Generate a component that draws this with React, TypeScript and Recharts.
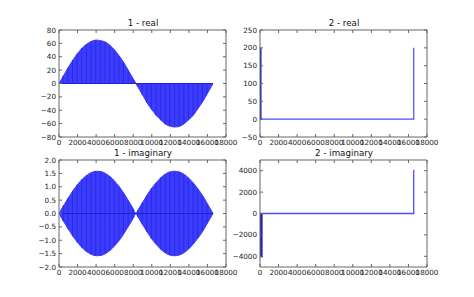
import React from 'react';
import { ComposedChart, Area, Bar, Line, XAxis, YAxis } from 'recharts';

// shared x ticks for all four panels
const xTicks = [0, 2000, 4000, 6000, 8000, 10000, 12000, 14000, 16000, 18000];

const sampleX = [0, 500, 1000, 1500, 2000, 2500, 3000, 3500, 4000, 4500, 5000, 5500, 6000, 6500, 7000, 7500, 8000, 8300, 8500, 9000, 9500, 10000, 10500, 11000, 11500, 12000, 12500, 13000, 13500, 14000, 14500, 15000, 15500, 16000, 16600];
const realOne = [0, 12, 24, 35, 45, 53, 59, 63, 65, 64, 62, 57, 50, 41, 31, 19, 7, 0, -5, -17, -29, -39, -48, -55, -61, -64, -65, -64, -60, -54, -47, -37, -27, -15, 0];
const imagOneEnv = [0, 0.3, 0.58, 0.85, 1.08, 1.28, 1.43, 1.53, 1.58, 1.57, 1.5, 1.38, 1.21, 1.0, 0.75, 0.47, 0.18, 0, 0.12, 0.41, 0.69, 0.95, 1.16, 1.35, 1.48, 1.56, 1.58, 1.55, 1.46, 1.32, 1.13, 0.91, 0.66, 0.36, 0];

// panel 2: spikes at both ends of the spectrum
const realTwoLeftX = [80, 80];
const realTwoLeftY = [200, 0];
const realTwoMainX = [0, 16570, 16570];
const realTwoMainY = [0, 0, 200];
const imagTwoLeftX = [120, 120];
const imagTwoLeftY = [0, -4100];
const imagTwoMainX = [0, 16570, 16570];
const imagTwoMainY = [0, 0, 4100];

const realOneTicks = [-80, -60, -40, -20, 0, 20, 40, 60, 80];
const imagOneTicks = [-2, -1.5, -1, -0.5, 0, 0.5, 1, 1.5, 2];
const realTwoTicks = [-50, 0, 50, 100, 150, 200, 250];
const imagTwoTicks = [-4000, -2000, 0, 2000, 4000];

const realOneData = sampleX.map((x, i) => ({ x, y: realOne[i], zero: 0 }));
const imagOneData = sampleX.map((x, i) => ({ x, band: [-imagOneEnv[i], imagOneEnv[i]], zero: 0 }));
const toPoints = (xs: number[], ys: number[]) => xs.map((x, i) => ({ x, y: ys[i] }));

const FONT = "'DejaVu Sans', sans-serif";
const AXIS = '#666';
const BLUE = '#3c3cff';
const STRIPE = '#2b2be6';
const minus = (s: string) => s.replace('-', '\u2212');

const PLOT_W = 168;
const PLOT_H = 108;
const PAD_TOP = 4;
const PAD_BOTTOM = 18;
const PAD_RIGHT = 16;

interface PanelProps {
  left: number;
  top: number;
  title: string;
  yWidth: number;
  yDomain: number[];
  yTicks: number[];
  yFormat: (v: number) => string;
  data?: any[];
  children: React.ReactNode;
}

const Panel: React.FC<PanelProps> = ({ left, top, title, yWidth, yDomain, yTicks, yFormat, data, children }) => {
  const tickStyle = { fontSize: 7.2, fill: '#222', fontFamily: FONT };
  // invisible series so the top / right frame axes get drawn
  const frame = [{ x: 0, y: yDomain[0] }, { x: 18000, y: yDomain[1] }];
  return (
    <>
      <div
        style={{
          position: 'absolute', left, top: top - 11, width: PLOT_W, textAlign: 'center',
          fontFamily: FONT, fontSize: 8.7, lineHeight: '10px', color: '#111',
        }}
      >
        {title}
      </div>
      <div style={{ position: 'absolute', left: left - yWidth, top: top - PAD_TOP }}>
        <ComposedChart
          width={yWidth + PLOT_W + PAD_RIGHT}
          height={PAD_TOP + PLOT_H + PAD_BOTTOM}
          data={data}
          margin={{ top: PAD_TOP, right: PAD_RIGHT, bottom: 0, left: 0 }}
        >
          <XAxis
            dataKey="x" type="number" domain={[0, 18000]} ticks={xTicks} interval={0}
            height={PAD_BOTTOM} tickSize={-3} tickMargin={6} stroke={AXIS} tick={tickStyle}
            allowDataOverflow
          />
          <XAxis
            xAxisId="top" orientation="top" dataKey="x" type="number" domain={[0, 18000]} ticks={xTicks}
            interval={0} height={1} tickSize={-3} stroke={AXIS} tickFormatter={() => ''} allowDataOverflow
          />
          <YAxis
            type="number" domain={yDomain} ticks={yTicks} interval={0} width={yWidth}
            tickSize={-3} tickMargin={6} stroke={AXIS} tick={tickStyle}
            tickFormatter={(v: number) => minus(yFormat(v))} allowDataOverflow
          />
          <YAxis
            yAxisId="right" orientation="right" type="number" domain={yDomain} ticks={yTicks} interval={0}
            width={1} tickSize={-3} stroke={AXIS} tickFormatter={() => ''} allowDataOverflow
          />
          <Line
            xAxisId="top" yAxisId="right" data={frame} dataKey="y" stroke="none" dot={false}
            isAnimationActive={false}
          />
          {children}
        </ComposedChart>
      </div>
    </>
  );
};

export default function App() {
  return (
    <div style={{ position: 'absolute', left: 0, top: 0, width: 474, height: 297, background: '#fff', overflow: 'hidden' }}>
      <Panel left={59} top={29} title="1 - real" yWidth={40} yDomain={[-80, 80]} yTicks={realOneTicks} yFormat={(v) => String(v)} data={realOneData}>
        <Area dataKey="y" type="monotone" stroke={BLUE} strokeWidth={1} fill={BLUE} fillOpacity={1} isAnimationActive={false} />
        <Bar dataKey="y" barSize={1} fill={STRIPE} isAnimationActive={false} />
        <Line dataKey="zero" stroke="#1f1fcc" strokeWidth={1} dot={false} isAnimationActive={false} />
      </Panel>
      <Panel left={260} top={29} title="2 - real" yWidth={40} yDomain={[-50, 250]} yTicks={realTwoTicks} yFormat={(v) => String(v)}>
        <Line data={toPoints(realTwoMainX, realTwoMainY)} dataKey="y" type="linear" stroke="#4b4bff" strokeWidth={1.2} dot={false} isAnimationActive={false} />
        <Line data={toPoints(realTwoLeftX, realTwoLeftY)} dataKey="y" type="linear" stroke="#1d1db0" strokeWidth={1.6} dot={false} isAnimationActive={false} />
      </Panel>
      <Panel left={59} top={159} title="1 - imaginary" yWidth={40} yDomain={[-2, 2]} yTicks={imagOneTicks} yFormat={(v) => v.toFixed(1)} data={imagOneData}>
        <Area dataKey="band" type="monotone" stroke={BLUE} strokeWidth={1} fill={BLUE} fillOpacity={1} isAnimationActive={false} />
        <Bar dataKey="band" barSize={1} fill={STRIPE} isAnimationActive={false} />
        <Line dataKey="zero" stroke="#1f1fcc" strokeWidth={1} dot={false} isAnimationActive={false} />
      </Panel>
      <Panel left={260} top={159} title="2 - imaginary" yWidth={40} yDomain={[-5000, 5000]} yTicks={imagTwoTicks} yFormat={(v) => String(v)}>
        <Line data={toPoints(imagTwoMainX, imagTwoMainY)} dataKey="y" type="linear" stroke="#4b4bff" strokeWidth={1.3} dot={false} isAnimationActive={false} />
        <Line data={toPoints(imagTwoLeftX, imagTwoLeftY)} dataKey="y" type="linear" stroke="#2222b8" strokeWidth={3} dot={false} isAnimationActive={false} />
      </Panel>
    </div>
  );
}
